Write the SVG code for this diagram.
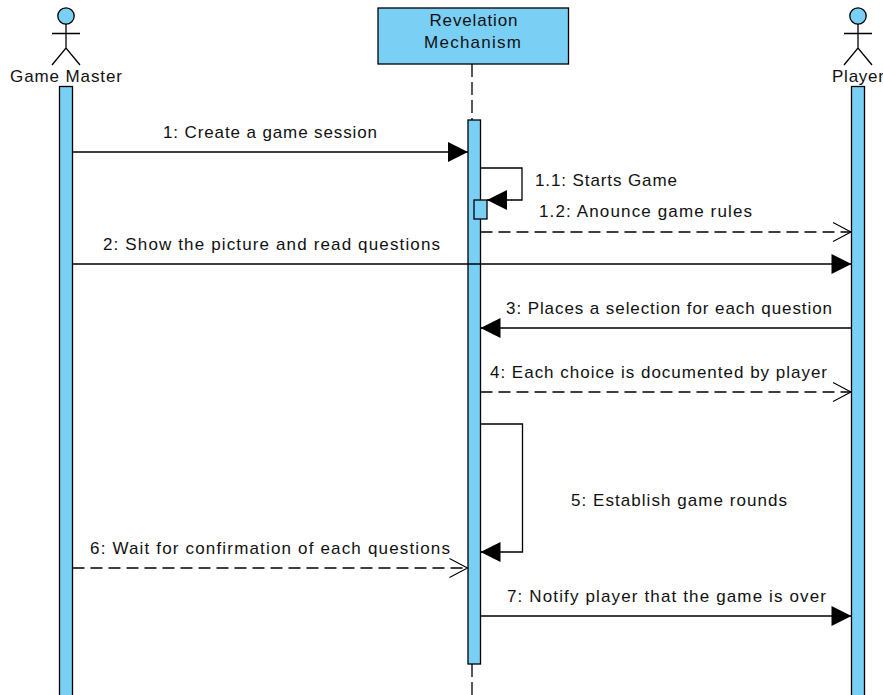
<svg xmlns="http://www.w3.org/2000/svg" width="883" height="695" viewBox="0 0 883 695">
<defs>
<marker id="solid" markerUnits="userSpaceOnUse" markerWidth="22" markerHeight="22" refX="21" refY="11" orient="auto"><path d="M1 1L21 11L1 21Z" fill="#000"/></marker>
<marker id="open" markerUnits="userSpaceOnUse" markerWidth="22" markerHeight="24" refX="20.500" refY="12" orient="auto"><path d="M2 2.500L20 12L2 21.500" fill="none" stroke="#000" stroke-width="1.100"/></marker>
</defs>
<style>
rect{fill:#7ACFF5;stroke:#000;stroke-width:1.3}
.a{fill:#7ACFF5;stroke:#000;stroke-width:1.3}
.s{fill:none;stroke:#000;stroke-width:1.3}
.d{stroke-dasharray:12 6}
.l{stroke-dasharray:13 5}
text{font-family:"Liberation Sans",Arial,sans-serif;font-size:17px;fill:#111;text-anchor:middle}
</style>
<g id="game-master">
<circle class="a" cx="66" cy="16" r="8.2"/>
<path class="s" d="M66 24V48M52 33.500H80M52 65L66 48L80 65"/>
<text x="66" y="82" textLength="112" lengthAdjust="spacing">Game Master</text>
<rect x="59.500" y="86.500" width="13" height="615"/>
</g>
<g id="revelation-mechanism">
<path class="s l" d="M472 64V120M472 664V695"/>
<rect x="378" y="8" width="190.500" height="56"/>
<text x="473.500" y="26" textLength="88" lengthAdjust="spacing">Revelation</text>
<text x="472.500" y="48" textLength="97" lengthAdjust="spacing">Mechanism</text>
<rect x="468" y="120" width="12.500" height="544"/>
<rect x="474" y="200" width="13" height="19"/>
</g>
<g id="player">
<circle class="a" cx="858" cy="16" r="8.2"/>
<path class="s" d="M858 24V48M844 33.500H872M844 65L858 48L872 65"/>
<text x="858" y="82" textLength="52" lengthAdjust="spacing">Player</text>
<rect x="851.500" y="86.500" width="13" height="615"/>
</g>
<g id="connectors">
<path class="s" d="M72.500 152H468" marker-end="url(#solid)"/>
<path class="s" d="M480.500 168H522V200H487" marker-end="url(#solid)"/>
<path class="s d" d="M480.500 232H851.500" marker-end="url(#open)"/>
<path class="s" d="M72.500 264H851.500" marker-end="url(#solid)"/>
<path class="s" d="M851.500 328H480.500" marker-end="url(#solid)"/>
<path class="s d" d="M480.500 392H851.500" marker-end="url(#open)"/>
<path class="s" d="M480.500 424H522.500V552H480.500" marker-end="url(#solid)"/>
<path class="s d" d="M72.500 568H468" marker-end="url(#open)"/>
<path class="s" d="M480.500 616H851.500" marker-end="url(#solid)"/>
</g>
<g id="labels">
<text x="270" y="138" textLength="214" lengthAdjust="spacing">1: Create a game session</text>
<text x="606" y="186" textLength="142" lengthAdjust="spacing">1.1: Starts Game</text>
<text x="645.500" y="217" textLength="213" lengthAdjust="spacing">1.2: Anounce game rules</text>
<text x="271.500" y="250" textLength="337" lengthAdjust="spacing">2: Show the picture and read questions</text>
<text x="669" y="314" textLength="326" lengthAdjust="spacing">3: Places a selection for each question</text>
<text x="658.500" y="378" textLength="337" lengthAdjust="spacing">4: Each choice is documented by player</text>
<text x="679" y="506" textLength="216" lengthAdjust="spacing">5: Establish game rounds</text>
<text x="270" y="554" textLength="360" lengthAdjust="spacing">6: Wait for confirmation of each questions</text>
<text x="666.500" y="602" textLength="319" lengthAdjust="spacing">7: Notify player that the game is over</text>
</g>
</svg>
